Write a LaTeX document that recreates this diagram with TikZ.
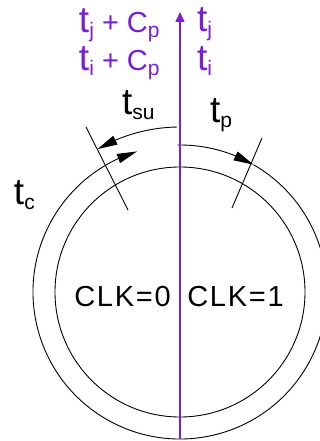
\documentclass[tikz,border=0pt]{standalone}
\usepackage{fontspec}
\setmainfont{Liberation Sans}
\usetikzlibrary{arrows.meta,bending}
\definecolor{vio}{RGB}{122,31,211}
\newcommand{\tT}{{\fontsize{37}{37}\selectfont t}}
\newcommand{\sbs}[1]{\raisebox{-5pt}{\fontsize{21}{21}\selectfont #1}}
\begin{document}
\begin{tikzpicture}[x=1pt,y=1pt,
  lbl/.style={inner sep=0pt, outer sep=0pt, font=\fontsize{29}{29}\selectfont},
  clk/.style={lbl, font=\fontsize{29}{29}\selectfont\addfontfeature{LetterSpace=6}},
  blk/.style={line width=0.9pt, black},
  tip/.style={-{Triangle[length=20pt,width=9.5pt,flex]}}]
\useasboundingbox (-180,-149) rectangle (140,292);
\clip (-180,-149) rectangle (140,292);
% circles
\draw[blk] (0,0) circle[radius=125];
\draw[blk,tip] (91:147) arc[start angle=91, end angle=60, radius=147];
\draw[blk,tip] (60:147) arc[start angle=60, end angle=-253, radius=147];
\draw[blk,tip] (91:165) arc[start angle=91, end angle=120, radius=165];
% ticks
\coordinate (ra) at (82,154); \coordinate (rb) at (52,84);
\coordinate (la) at (-94,165); \coordinate (lb) at (-52,82);
\draw[blk] (ra) -- (rb);
\draw[blk] (la) -- (lb);
% purple axis
\coordinate (bot) at (0,-147);
\coordinate (top) at (0,280);
\draw[vio, line width=1.4pt, -{Triangle[length=10pt,width=9pt]}] (bot) -- (top);
% labels
\node[lbl, anchor=base west, text=vio] (tjc) at (-101,259) {\tT\sbs{j} + C\sbs{p}};
\node[lbl, anchor=base west, text=vio] (tic) at (-101,221) {\tT\sbs{i} + C\sbs{p}};
\node[lbl, anchor=base west, text=vio] (tj) at (17,260) {\tT\sbs{j}};
\node[lbl, anchor=base west, text=vio] (ti) at (17,221) {\tT\sbs{i}};
\node[lbl, anchor=base west] (tsu) at (-58,177) {\tT\sbs{su}};
\node[lbl, anchor=base west] (tp) at (30,169) {\tT\sbs{p}};
\node[lbl, anchor=base west] (tc) at (-166,87) {\tT\sbs{c}};
\node[clk, anchor=base] (c0) at (-57.5,-15) {CLK=0};
\node[clk, anchor=base] (c1) at (55.5,-15) {CLK=1};
\end{tikzpicture}
\end{document}
